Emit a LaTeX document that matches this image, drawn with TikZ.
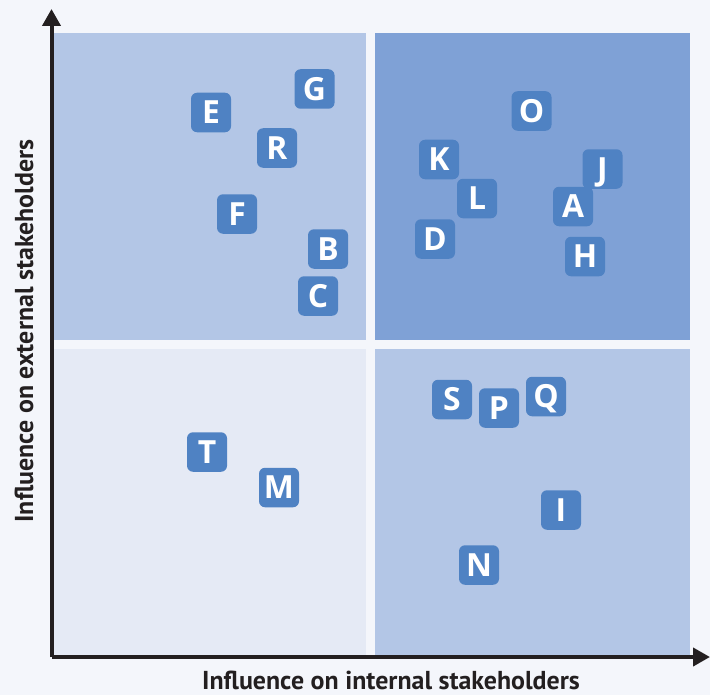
\documentclass[tikz,border=0pt]{standalone}
\usepackage{fontspec}
\setmainfont{Open Sans}
\newfontfamily\labelfont{PT Sans}
\usetikzlibrary{arrows.meta}
\definecolor{bgc}{HTML}{F4F6FB}
\definecolor{lightq}{HTML}{B3C6E6}
\definecolor{darkq}{HTML}{7FA1D6}
\definecolor{paleq}{HTML}{E5EAF5}
\definecolor{badgec}{HTML}{4F82C3}
\definecolor{axisc}{HTML}{231F20}
\tikzset{
  badge/.style={fill=badgec, rounded corners=6bp, minimum width=40bp, minimum height=39.5bp,
    inner sep=0pt, text=white, text height=22.5bp, text depth=0pt,
    font=\bfseries\fontsize{32}{32}\selectfont},
  axislabel/.style={text=axisc, inner sep=0pt, font=\labelfont\bfseries\fontsize{26}{26}\selectfont},
  axisline/.style={draw=axisc, line width=4bp, -{Triangle[width=18bp,length=17bp]}}
}
\begin{document}
\begin{tikzpicture}[x=1bp,y=-1bp]
\fill[bgc] (0,0) rectangle (710,695);
\useasboundingbox (0,0) rectangle (710,695);
% quadrants
\fill[lightq] (54,33) rectangle (366,340);
\fill[darkq] (375,33) rectangle (690,340);
\fill[paleq] (54,349) rectangle (366,655);
\fill[lightq] (375,349) rectangle (690,655);
% axes
\coordinate (origin) at (51.5,657);
\coordinate (ytip) at (51.5,9);
\coordinate (xtip) at (710,657);
\draw[axisline] (origin) -- (ytip);
\draw[axisline] (origin) -- (xtip);
% labels
\node[axislabel] (xl) at (391,680) {Influence on internal stakeholders};
\node[axislabel, rotate=90] (yl) at (24,331) {Influence on external stakeholders};
% badges
\node[badge] (G) at (314.5,89) {G};
\node[badge] (E) at (211,112.5) {E};
\node[badge] (R) at (277,148) {R};
\node[badge] (F) at (237,214) {F};
\node[badge] (B) at (328,249) {B};
\node[badge] (C) at (318,296) {C};
\node[badge] (O) at (531.5,111) {O};
\node[badge] (K) at (439,159.5) {K};
\node[badge] (J) at (602.5,169) {J};
\node[badge] (L) at (477,198.5) {L};
\node[badge] (A) at (573,206.5) {A};
\node[badge] (D) at (435,239) {D};
\node[badge] (H) at (585,256.5) {H};
\node[badge] (S) at (452,399.5) {S};
\node[badge] (P) at (499,408) {P};
\node[badge] (Q) at (546,396.5) {Q};
\node[badge] (T) at (207,452) {T};
\node[badge] (M) at (279,487.5) {M};
\node[badge] (I) at (561,510) {I};
\node[badge] (N) at (479,565) {N};
\end{tikzpicture}
\end{document}
